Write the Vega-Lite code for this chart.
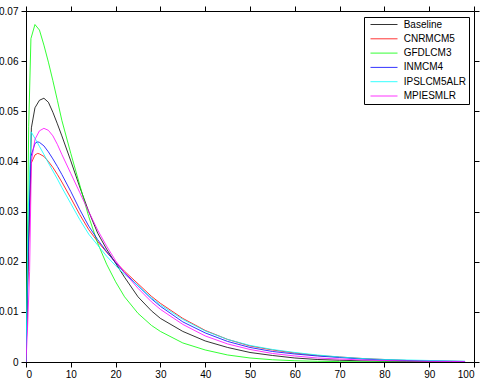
{
  "$schema": "https://vega.github.io/schema/vega-lite/v6.json",
  "width": 448,
  "height": 351,
  "autosize": {"type": "none"},
  "padding": {"left": 26, "top": 11, "right": 11, "bottom": 19},
  "background": "white",
  "config": {
    "view": {"stroke": "black", "strokeWidth": 1},
    "font": "Liberation Sans",
    "axis": {"grid": false, "domainColor": "black", "tickColor": "black", "labelColor": "black", "labelFontSize": 10, "labelFont": "Liberation Sans", "tickSize": 5, "title": null},
    "legend": {"orient": "none", "legendX": 338, "legendY": 6, "title": null, "symbolType": "stroke", "symbolSize": 729, "symbolStrokeWidth": 0.8, "clipHeight": 9, "rowPadding": 3.3, "padding": 3, "symbolOffset": 3, "labelOffset": 5.7, "labelFontSize": 10, "labelFont": "Liberation Sans", "labelColor": "black", "strokeColor": "black", "fillColor": "white", "cornerRadius": 0}
  },
  "data": {"values": [
    {"model": "Baseline", "x": 0, "y": 0},
    {"model": "Baseline", "x": 0.5, "y": 0.022},
    {"model": "Baseline", "x": 1.2, "y": 0.0467},
    {"model": "Baseline", "x": 2, "y": 0.0507},
    {"model": "Baseline", "x": 3, "y": 0.0522},
    {"model": "Baseline", "x": 4, "y": 0.0526},
    {"model": "Baseline", "x": 5, "y": 0.0518},
    {"model": "Baseline", "x": 6, "y": 0.0498},
    {"model": "Baseline", "x": 7, "y": 0.0475},
    {"model": "Baseline", "x": 8, "y": 0.0451},
    {"model": "Baseline", "x": 10, "y": 0.0401},
    {"model": "Baseline", "x": 12, "y": 0.0349},
    {"model": "Baseline", "x": 14, "y": 0.0300},
    {"model": "Baseline", "x": 16, "y": 0.0257},
    {"model": "Baseline", "x": 18, "y": 0.0225},
    {"model": "Baseline", "x": 20, "y": 0.0197},
    {"model": "Baseline", "x": 22, "y": 0.0169},
    {"model": "Baseline", "x": 25, "y": 0.0130},
    {"model": "Baseline", "x": 28, "y": 0.0102},
    {"model": "Baseline", "x": 30, "y": 0.0087},
    {"model": "Baseline", "x": 35, "y": 0.0061},
    {"model": "Baseline", "x": 40, "y": 0.0042},
    {"model": "Baseline", "x": 45, "y": 0.0029},
    {"model": "Baseline", "x": 50, "y": 0.0019},
    {"model": "Baseline", "x": 55, "y": 0.0013},
    {"model": "Baseline", "x": 60, "y": 0.0008},
    {"model": "Baseline", "x": 65, "y": 0.0005},
    {"model": "Baseline", "x": 70, "y": 0.00035},
    {"model": "Baseline", "x": 75, "y": 0.00023},
    {"model": "Baseline", "x": 80, "y": 0.00015},
    {"model": "Baseline", "x": 85, "y": 0.0001},
    {"model": "Baseline", "x": 90, "y": 0.00006},
    {"model": "Baseline", "x": 95, "y": 0.00004},
    {"model": "Baseline", "x": 98, "y": 0.00003},

    {"model": "CNRMCM5", "x": 0, "y": 0},
    {"model": "CNRMCM5", "x": 0.5, "y": 0.02},
    {"model": "CNRMCM5", "x": 1.15, "y": 0.0396},
    {"model": "CNRMCM5", "x": 2, "y": 0.0413},
    {"model": "CNRMCM5", "x": 2.6, "y": 0.0416},
    {"model": "CNRMCM5", "x": 3, "y": 0.0415},
    {"model": "CNRMCM5", "x": 4, "y": 0.0410},
    {"model": "CNRMCM5", "x": 5, "y": 0.0400},
    {"model": "CNRMCM5", "x": 6, "y": 0.0388},
    {"model": "CNRMCM5", "x": 7, "y": 0.0374},
    {"model": "CNRMCM5", "x": 8, "y": 0.0359},
    {"model": "CNRMCM5", "x": 10, "y": 0.0327},
    {"model": "CNRMCM5", "x": 12, "y": 0.0294},
    {"model": "CNRMCM5", "x": 14, "y": 0.0264},
    {"model": "CNRMCM5", "x": 16, "y": 0.0240},
    {"model": "CNRMCM5", "x": 18, "y": 0.0219},
    {"model": "CNRMCM5", "x": 20, "y": 0.0199},
    {"model": "CNRMCM5", "x": 22, "y": 0.0181},
    {"model": "CNRMCM5", "x": 25, "y": 0.0156},
    {"model": "CNRMCM5", "x": 28, "y": 0.0131},
    {"model": "CNRMCM5", "x": 30, "y": 0.0117},
    {"model": "CNRMCM5", "x": 35, "y": 0.0087},
    {"model": "CNRMCM5", "x": 40, "y": 0.0063},
    {"model": "CNRMCM5", "x": 45, "y": 0.0045},
    {"model": "CNRMCM5", "x": 50, "y": 0.0032},
    {"model": "CNRMCM5", "x": 55, "y": 0.0024},
    {"model": "CNRMCM5", "x": 60, "y": 0.0018},
    {"model": "CNRMCM5", "x": 65, "y": 0.0013},
    {"model": "CNRMCM5", "x": 70, "y": 0.0010},
    {"model": "CNRMCM5", "x": 75, "y": 0.0007},
    {"model": "CNRMCM5", "x": 80, "y": 0.0005},
    {"model": "CNRMCM5", "x": 85, "y": 0.0003},
    {"model": "CNRMCM5", "x": 90, "y": 0.0002},
    {"model": "CNRMCM5", "x": 95, "y": 0.00015},
    {"model": "CNRMCM5", "x": 98, "y": 0.0001},

    {"model": "GFDLCM3", "x": 0, "y": 0},
    {"model": "GFDLCM3", "x": 0.6, "y": 0.047},
    {"model": "GFDLCM3", "x": 1.1, "y": 0.0645},
    {"model": "GFDLCM3", "x": 2, "y": 0.0673},
    {"model": "GFDLCM3", "x": 3, "y": 0.0662},
    {"model": "GFDLCM3", "x": 4, "y": 0.0632},
    {"model": "GFDLCM3", "x": 5, "y": 0.0598},
    {"model": "GFDLCM3", "x": 6, "y": 0.0561},
    {"model": "GFDLCM3", "x": 7, "y": 0.0522},
    {"model": "GFDLCM3", "x": 8, "y": 0.0482},
    {"model": "GFDLCM3", "x": 10, "y": 0.0416},
    {"model": "GFDLCM3", "x": 12, "y": 0.0353},
    {"model": "GFDLCM3", "x": 14, "y": 0.0290},
    {"model": "GFDLCM3", "x": 16, "y": 0.0237},
    {"model": "GFDLCM3", "x": 18, "y": 0.0195},
    {"model": "GFDLCM3", "x": 20, "y": 0.0160},
    {"model": "GFDLCM3", "x": 22, "y": 0.0130},
    {"model": "GFDLCM3", "x": 25, "y": 0.0097},
    {"model": "GFDLCM3", "x": 28, "y": 0.0073},
    {"model": "GFDLCM3", "x": 30, "y": 0.0061},
    {"model": "GFDLCM3", "x": 35, "y": 0.0038},
    {"model": "GFDLCM3", "x": 40, "y": 0.0024},
    {"model": "GFDLCM3", "x": 45, "y": 0.0014},
    {"model": "GFDLCM3", "x": 50, "y": 0.0008},
    {"model": "GFDLCM3", "x": 55, "y": 0.00045},
    {"model": "GFDLCM3", "x": 60, "y": 0.00025},
    {"model": "GFDLCM3", "x": 65, "y": 0.00014},
    {"model": "GFDLCM3", "x": 70, "y": 0.00008},
    {"model": "GFDLCM3", "x": 75, "y": 0.00005},
    {"model": "GFDLCM3", "x": 80, "y": 0.00003},
    {"model": "GFDLCM3", "x": 85, "y": 0.00002},
    {"model": "GFDLCM3", "x": 90, "y": 0.00001},
    {"model": "GFDLCM3", "x": 95, "y": 0.00001},
    {"model": "GFDLCM3", "x": 98, "y": 0.00001},

    {"model": "INMCM4", "x": 0, "y": 0},
    {"model": "INMCM4", "x": 0.5, "y": 0.022},
    {"model": "INMCM4", "x": 1.1, "y": 0.041},
    {"model": "INMCM4", "x": 2, "y": 0.0436},
    {"model": "INMCM4", "x": 2.6, "y": 0.0439},
    {"model": "INMCM4", "x": 3, "y": 0.0438},
    {"model": "INMCM4", "x": 4, "y": 0.0431},
    {"model": "INMCM4", "x": 5, "y": 0.0419},
    {"model": "INMCM4", "x": 6, "y": 0.0405},
    {"model": "INMCM4", "x": 7, "y": 0.0390},
    {"model": "INMCM4", "x": 8, "y": 0.0374},
    {"model": "INMCM4", "x": 10, "y": 0.0340},
    {"model": "INMCM4", "x": 12, "y": 0.0304},
    {"model": "INMCM4", "x": 14, "y": 0.0271},
    {"model": "INMCM4", "x": 16, "y": 0.0244},
    {"model": "INMCM4", "x": 18, "y": 0.0220},
    {"model": "INMCM4", "x": 20, "y": 0.0198},
    {"model": "INMCM4", "x": 22, "y": 0.0178},
    {"model": "INMCM4", "x": 25, "y": 0.0152},
    {"model": "INMCM4", "x": 28, "y": 0.0126},
    {"model": "INMCM4", "x": 30, "y": 0.0111},
    {"model": "INMCM4", "x": 35, "y": 0.0080},
    {"model": "INMCM4", "x": 40, "y": 0.0058},
    {"model": "INMCM4", "x": 45, "y": 0.0041},
    {"model": "INMCM4", "x": 50, "y": 0.0029},
    {"model": "INMCM4", "x": 55, "y": 0.0021},
    {"model": "INMCM4", "x": 60, "y": 0.0016},
    {"model": "INMCM4", "x": 65, "y": 0.0012},
    {"model": "INMCM4", "x": 70, "y": 0.0009},
    {"model": "INMCM4", "x": 75, "y": 0.0006},
    {"model": "INMCM4", "x": 80, "y": 0.0004},
    {"model": "INMCM4", "x": 85, "y": 0.0003},
    {"model": "INMCM4", "x": 90, "y": 0.0002},
    {"model": "INMCM4", "x": 95, "y": 0.00014},
    {"model": "INMCM4", "x": 98, "y": 0.0001},

    {"model": "IPSLCM5ALR", "x": 0, "y": 0},
    {"model": "IPSLCM5ALR", "x": 0.5, "y": 0.03},
    {"model": "IPSLCM5ALR", "x": 1.15, "y": 0.0459},
    {"model": "IPSLCM5ALR", "x": 2, "y": 0.0446},
    {"model": "IPSLCM5ALR", "x": 3, "y": 0.0430},
    {"model": "IPSLCM5ALR", "x": 4, "y": 0.0414},
    {"model": "IPSLCM5ALR", "x": 5, "y": 0.0397},
    {"model": "IPSLCM5ALR", "x": 6, "y": 0.0381},
    {"model": "IPSLCM5ALR", "x": 7, "y": 0.0365},
    {"model": "IPSLCM5ALR", "x": 8, "y": 0.0348},
    {"model": "IPSLCM5ALR", "x": 10, "y": 0.0316},
    {"model": "IPSLCM5ALR", "x": 12, "y": 0.0284},
    {"model": "IPSLCM5ALR", "x": 14, "y": 0.0255},
    {"model": "IPSLCM5ALR", "x": 16, "y": 0.0233},
    {"model": "IPSLCM5ALR", "x": 18, "y": 0.0211},
    {"model": "IPSLCM5ALR", "x": 20, "y": 0.0192},
    {"model": "IPSLCM5ALR", "x": 22, "y": 0.0175},
    {"model": "IPSLCM5ALR", "x": 25, "y": 0.0152},
    {"model": "IPSLCM5ALR", "x": 28, "y": 0.0128},
    {"model": "IPSLCM5ALR", "x": 30, "y": 0.0114},
    {"model": "IPSLCM5ALR", "x": 35, "y": 0.0085},
    {"model": "IPSLCM5ALR", "x": 40, "y": 0.0062},
    {"model": "IPSLCM5ALR", "x": 45, "y": 0.0045},
    {"model": "IPSLCM5ALR", "x": 50, "y": 0.0033},
    {"model": "IPSLCM5ALR", "x": 55, "y": 0.0025},
    {"model": "IPSLCM5ALR", "x": 60, "y": 0.0019},
    {"model": "IPSLCM5ALR", "x": 65, "y": 0.0014},
    {"model": "IPSLCM5ALR", "x": 70, "y": 0.0010},
    {"model": "IPSLCM5ALR", "x": 75, "y": 0.0007},
    {"model": "IPSLCM5ALR", "x": 80, "y": 0.0005},
    {"model": "IPSLCM5ALR", "x": 85, "y": 0.0004},
    {"model": "IPSLCM5ALR", "x": 90, "y": 0.0003},
    {"model": "IPSLCM5ALR", "x": 95, "y": 0.0002},
    {"model": "IPSLCM5ALR", "x": 98, "y": 0.00015},

    {"model": "MPIESMLR", "x": 0, "y": 0},
    {"model": "MPIESMLR", "x": 0.4, "y": 0.008},
    {"model": "MPIESMLR", "x": 0.8, "y": 0.018},
    {"model": "MPIESMLR", "x": 1.2, "y": 0.040},
    {"model": "MPIESMLR", "x": 2, "y": 0.0444},
    {"model": "MPIESMLR", "x": 3, "y": 0.0461},
    {"model": "MPIESMLR", "x": 4, "y": 0.0466},
    {"model": "MPIESMLR", "x": 5, "y": 0.0462},
    {"model": "MPIESMLR", "x": 6, "y": 0.0451},
    {"model": "MPIESMLR", "x": 7, "y": 0.0434},
    {"model": "MPIESMLR", "x": 8, "y": 0.0414},
    {"model": "MPIESMLR", "x": 10, "y": 0.0376},
    {"model": "MPIESMLR", "x": 12, "y": 0.0338},
    {"model": "MPIESMLR", "x": 14, "y": 0.0300},
    {"model": "MPIESMLR", "x": 16, "y": 0.0263},
    {"model": "MPIESMLR", "x": 18, "y": 0.0231},
    {"model": "MPIESMLR", "x": 20, "y": 0.0202},
    {"model": "MPIESMLR", "x": 22, "y": 0.0178},
    {"model": "MPIESMLR", "x": 25, "y": 0.0147},
    {"model": "MPIESMLR", "x": 28, "y": 0.0120},
    {"model": "MPIESMLR", "x": 30, "y": 0.0105},
    {"model": "MPIESMLR", "x": 35, "y": 0.0075},
    {"model": "MPIESMLR", "x": 40, "y": 0.0052},
    {"model": "MPIESMLR", "x": 45, "y": 0.0036},
    {"model": "MPIESMLR", "x": 50, "y": 0.0025},
    {"model": "MPIESMLR", "x": 55, "y": 0.0017},
    {"model": "MPIESMLR", "x": 60, "y": 0.0012},
    {"model": "MPIESMLR", "x": 65, "y": 0.0008},
    {"model": "MPIESMLR", "x": 70, "y": 0.0006},
    {"model": "MPIESMLR", "x": 75, "y": 0.0004},
    {"model": "MPIESMLR", "x": 80, "y": 0.0003},
    {"model": "MPIESMLR", "x": 85, "y": 0.0002},
    {"model": "MPIESMLR", "x": 90, "y": 0.00014},
    {"model": "MPIESMLR", "x": 95, "y": 0.0001},
    {"model": "MPIESMLR", "x": 98, "y": 0.00008}
  ]},
  "layer": [
    {
      "mark": {"type": "line", "strokeWidth": 0.8, "clip": true},
      "encoding": {
        "x": {"field": "x", "type": "quantitative", "scale": {"domain": [0, 100], "nice": false}, "axis": {"orient": "bottom", "values": [0, 10, 20, 30, 40, 50, 60, 70, 80, 90, 100], "labelPadding": 2, "title": null}},
        "y": {"field": "y", "type": "quantitative", "scale": {"domain": [0, 0.07], "nice": false}, "axis": {"orient": "left", "values": [0, 0.01, 0.02, 0.03, 0.04, 0.05, 0.06, 0.07], "format": ".2~f", "labelPadding": 3, "title": null}},
        "color": {"field": "model", "type": "nominal", "scale": {"domain": ["Baseline", "CNRMCM5", "GFDLCM3", "INMCM4", "IPSLCM5ALR", "MPIESMLR"], "range": ["#000000", "#ff0000", "#00ff00", "#0000ff", "#00ffff", "#ff00ff"]}, "legend": {"title": null}}
      }
    },
    {
      "mark": {"type": "line", "opacity": 0},
      "encoding": {
        "x": {"field": "x", "type": "quantitative", "scale": {"domain": [0, 100], "nice": false}, "axis": {"orient": "top", "values": [0, 10, 20, 30, 40, 50, 60, 70, 80, 90, 100], "labels": false, "domain": false, "title": null}},
        "y": {"field": "y", "type": "quantitative", "scale": {"domain": [0, 0.07], "nice": false}, "axis": {"orient": "right", "values": [0, 0.01, 0.02, 0.03, 0.04, 0.05, 0.06, 0.07], "labels": false, "domain": false, "title": null}}
      }
    }
  ],
  "resolve": {"scale": {"x": "independent", "y": "independent"}, "axis": {"x": "independent", "y": "independent"}}
}
